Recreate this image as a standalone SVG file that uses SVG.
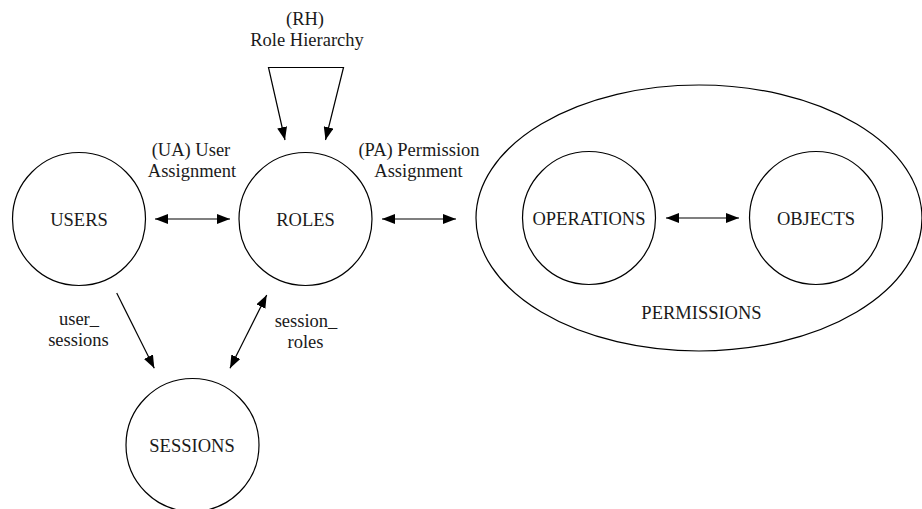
<svg xmlns="http://www.w3.org/2000/svg" width="922" height="509" viewBox="0 0 922 509">
  <style>
    .node { fill: none; stroke: #000; stroke-width: 1.2; }
    .edge { fill: none; stroke: #000; stroke-width: 1.2; }
  </style>
  <defs>
    <marker id="head" viewBox="0 0 13 10" refX="13" refY="5" markerWidth="13" markerHeight="10" markerUnits="userSpaceOnUse" orient="auto-start-reverse">
      <path d="M0,0 L13,5 L0,10 Z" fill="#000"/>
    </marker>
  </defs>

  <rect width="922" height="509" fill="#fff"/>

  <g font-family="Liberation Serif, DejaVu Serif, serif" font-size="18.5" fill="#1a1a1a" text-anchor="middle">
    <!-- permissions container holding operations and objects -->
    <g id="permissions">
      <ellipse class="node" cx="699" cy="218" rx="223" ry="133"/>
      <text x="701.5" y="319">PERMISSIONS</text>
    </g>

    <g id="users">
      <circle class="node" cx="79" cy="219" r="66.5"/>
      <text x="79" y="226">USERS</text>
    </g>

    <g id="roles">
      <circle class="node" cx="305.5" cy="219" r="66.5"/>
      <text x="305.5" y="226">ROLES</text>
    </g>

    <g id="sessions">
      <circle class="node" cx="192.5" cy="445" r="66.5"/>
      <text x="192" y="452">SESSIONS</text>
    </g>

    <g id="operations">
      <circle class="node" cx="589" cy="218" r="66.5"/>
      <text x="589" y="225">OPERATIONS</text>
    </g>

    <g id="objects">
      <circle class="node" cx="816" cy="218" r="66.5"/>
      <text x="816" y="225">OBJECTS</text>
    </g>

    <g id="connectors">
      <!-- role hierarchy self-loop -->
      <path class="edge" d="M285,140 L268.5,67.5 L343.5,67.5 L325.5,140" marker-start="url(#head)" marker-end="url(#head)"/>
      <text x="305" y="24.5">(RH)</text>
      <text x="307" y="45.5">Role Hierarchy</text>

      <!-- user assignment -->
      <line class="edge" x1="155" y1="219" x2="230" y2="219" marker-start="url(#head)" marker-end="url(#head)"/>
      <text x="191" y="156">(UA) User</text>
      <text x="192" y="176.5">Assignment</text>

      <!-- permission assignment -->
      <line class="edge" x1="382" y1="219" x2="456" y2="219" marker-start="url(#head)" marker-end="url(#head)"/>
      <text x="419" y="156">(PA) Permission</text>
      <text x="418.5" y="176.5">Assignment</text>

      <!-- operations to objects -->
      <line class="edge" x1="666" y1="218" x2="739" y2="218" marker-start="url(#head)" marker-end="url(#head)"/>

      <!-- user sessions -->
      <line class="edge" x1="116.7" y1="293" x2="154.3" y2="368.3" marker-end="url(#head)"/>
      <text x="79" y="325">user_</text>
      <text x="78.5" y="346">sessions</text>

      <!-- session roles -->
      <line class="edge" x1="266.7" y1="295" x2="230" y2="368.3" marker-start="url(#head)" marker-end="url(#head)"/>
      <text x="306" y="327">session_</text>
      <text x="305.5" y="348">roles</text>
    </g>
  </g>
</svg>
